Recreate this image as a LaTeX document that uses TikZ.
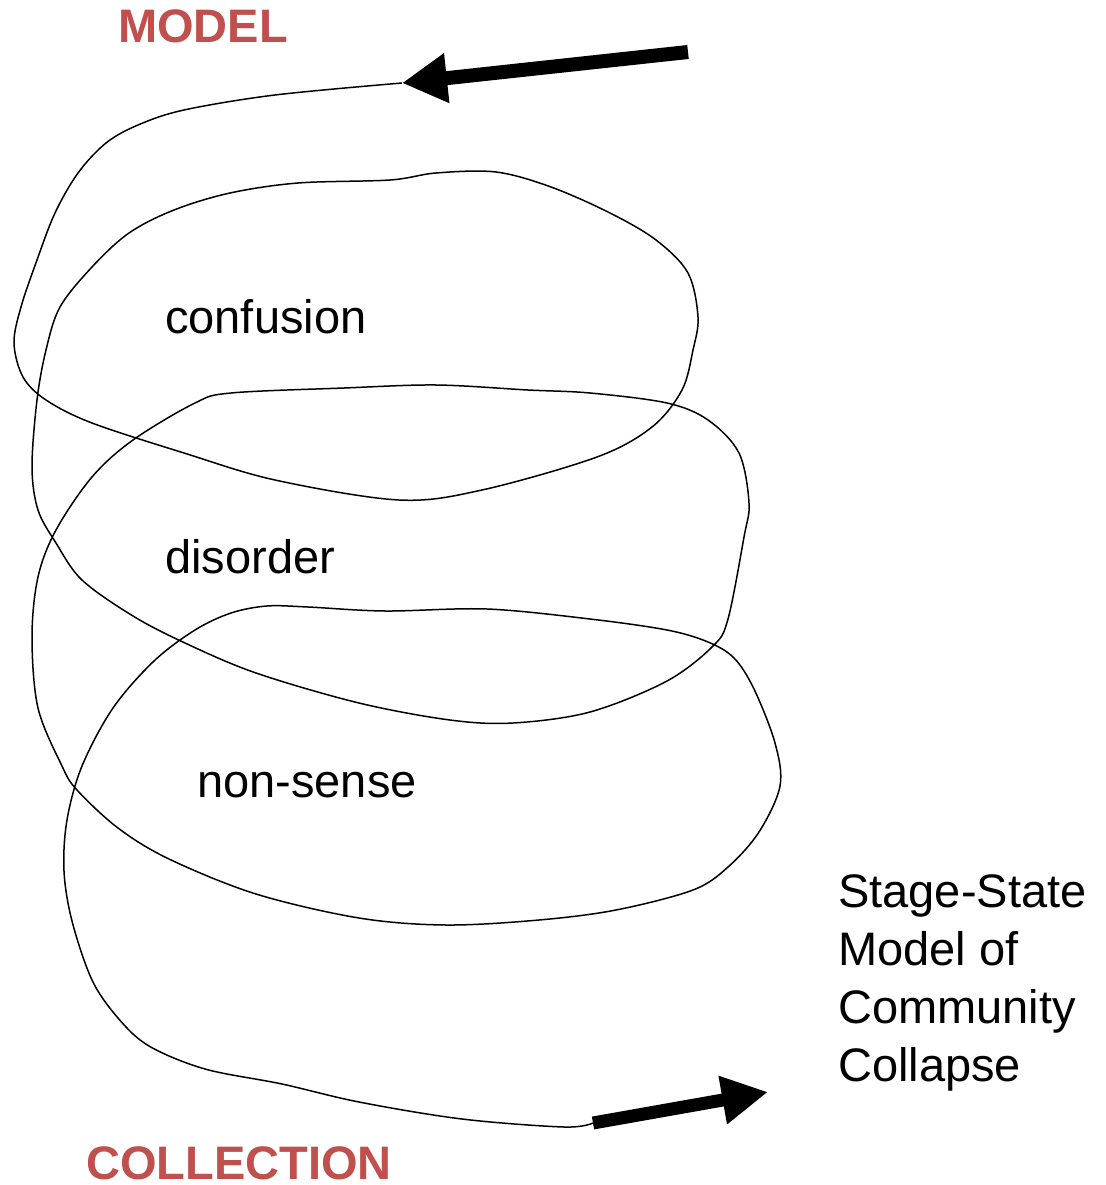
\documentclass[tikz,border=0pt]{standalone}
\usepackage{fontspec}
\setmainfont{Liberation Sans}
\usetikzlibrary{arrows.meta}
\definecolor{labred}{RGB}{192,80,77}
\begin{document}
\begin{tikzpicture}[x=1pt,y=-1pt,
  lbl/.style={inner sep=0pt, anchor=base west, font=\fontsize{47}{57.7}\selectfont},
  redlbl/.style={lbl, text=labred, font=\fontsize{47}{57.7}\selectfont\bfseries},
  spiral/.style={line width=1.5pt, line join=round},
  fatarrow/.style={line width=14pt, -{Triangle[length=45pt, width=47pt]}}]
\useasboundingbox (0,0) rectangle (1105,1185);
% labels
\node[redlbl] (model) at (118,43) {MODEL};
\node[redlbl] (collection) at (86,1179) {COLLECTION};
\node[lbl] (confusion) at (165,333) {confusion};
\node[lbl] (disorder) at (165,573) {disorder};
\node[lbl] (nonsense) at (197,797) {non-sense};
\node[lbl, align=left] (title) at (838,1081) {Stage-State\\Model of\\Community\\Collapse};
% arrow end points
\coordinate (inStart) at (688,52);
\coordinate (inTip) at (402,83);
\coordinate (outStart) at (593,1123);
\coordinate (outTip) at (768,1092);
% spiral
\draw[spiral] plot[smooth, tension=0.55] coordinates {
 (402,83) (275,95) (184,110) (138,125) (106,143) (78,173) (55,213) (37,260)
 (21,307) (14,343) (23,377) (46,400) (92,423) (184,453) (275,480) (399,500)
 (482,490) (597,457) (652,427) (682,390) (693,350) (698,317) (688,273) (656,240)
 (610,213) (551,187) (496,172) (436,173) (390,180) (298,183) (230,193) (174,210)
 (129,233) (92,267) (60,307) (46,350) (37,400) (32,467) (38,510) (56,543)
 (82,580) (133,616) (185,643) (256,673) (359,703) (450,720) (513,723) (590,712)
 (667,681) (713,646) (728,619) (744,537) (749,503) (739,453) (708,420) (667,403)
 (590,393) (528,390) (436,385) (344,388) (231,393) (195,403) (133,440) (92,477)
 (56,530) (38,577) (32,637) (38,708) (62,766) (77,790) (118,828) (169,859)
 (256,894) (359,918) (446,925) (539,920) (616,910) (693,890) (728,867) (759,832)
 (780,786) (775,743) (754,689) (734,658) (708,642) (667,630) (590,619) (487,609)
 (385,611) (308,607) (267,606) (231,613) (195,630) (154,661) (113,708) (82,766)
 (67,820) (64,871) (72,921) (92,980) (118,1018) (149,1046) (205,1069) (282,1084)
 (359,1102) (462,1119) (564,1127) (593,1123)};
% thick arrows
\draw[fatarrow] (inStart) -- (inTip);
\draw[fatarrow, line width=13pt, -{Triangle[length=46pt, width=46pt]}] (outStart) -- (outTip);
\end{tikzpicture}
\end{document}
